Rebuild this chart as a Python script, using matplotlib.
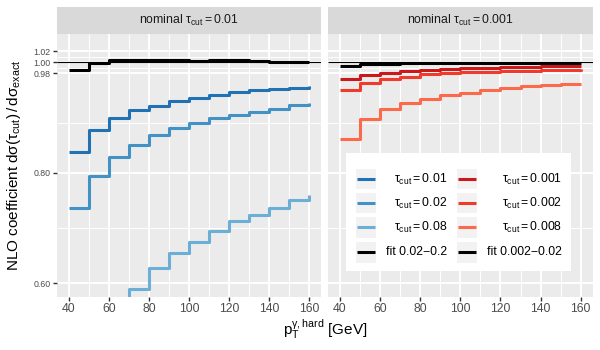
import numpy as np
import matplotlib
matplotlib.use("Agg")
import matplotlib.pyplot as plt
from matplotlib.patches import Rectangle

plt.rcParams['font.family'] = ['Liberation Sans', 'DejaVu Sans']
plt.rcParams['mathtext.fontset'] = 'custom'
plt.rcParams['mathtext.rm'] = 'Liberation Sans'
plt.rcParams['mathtext.it'] = 'Liberation Sans:italic'
plt.rcParams['mathtext.bf'] = 'Liberation Sans:bold'
plt.rcParams['mathtext.sf'] = 'Liberation Sans'
plt.rcParams['mathtext.default'] = 'rm'
plt.rcParams['lines.solid_capstyle'] = 'butt'

# photon pT bin edges (GeV)
pt = [40, 50, 60, 70, 80, 90, 100, 110, 120, 130, 140, 150, 160]

# left panel: nominal tau_cut = 0.01
nlo_tau_0p01 = [0.838, 0.877, 0.899, 0.914, 0.921, 0.930, 0.935, 0.941, 0.946, 0.949, 0.951, 0.954, 0.957]
nlo_tau_0p02 = [0.736, 0.794, 0.829, 0.851, 0.869, 0.881, 0.890, 0.899, 0.905, 0.910, 0.915, 0.922, 0.926]
nlo_tau_0p08 = [0.450, 0.510, 0.555, 0.590, 0.627, 0.654, 0.675, 0.695, 0.713, 0.724, 0.737, 0.750, 0.759]
fit_0p02_0p2 = [0.9855, 0.998, 1.0036, 1.004, 1.005, 1.005, 1.003, 1.0036, 1.0036, 1.002, 1.0005, 1.001, 1.001]

# right panel: nominal tau_cut = 0.001
nlo_tau_0p001 = [0.969, 0.977, 0.981, 0.985, 0.986, 0.988, 0.990, 0.990, 0.992, 0.992, 0.993, 0.993, 0.994]
nlo_tau_0p002 = [0.949, 0.962, 0.969, 0.974, 0.978, 0.980, 0.982, 0.983, 0.985, 0.985, 0.986, 0.986, 0.987]
nlo_tau_0p008 = [0.862, 0.897, 0.915, 0.927, 0.934, 0.940, 0.945, 0.950, 0.954, 0.957, 0.958, 0.961, 0.961]
fit_0p002_0p02 = [0.9935, 0.996, 0.997, 0.998, 0.998, 0.999, 0.999, 0.999, 0.999, 0.999, 0.999, 0.999, 0.999]

y_major = [0.60, 0.80, 0.98, 1.00, 1.02]
y_major_labels = ["0.60", "0.80", "0.98", "1.00", "1.02"]
y_minor = [0.70, 0.89, 0.99, 1.01]
x_major = [40, 60, 80, 100, 120, 140, 160]
x_minor = [50, 70, 90, 110, 130, 150]

blues = ["#2171B5", "#4292C6", "#6BAED6"]
reds = ["#CB181D", "#EF3B2C", "#FB6A4A"]
lw = 2.2

W, H = 600.0, 350.0
fig = plt.figure(figsize=(6, 3.5), dpi=100)

def box(x0, y0, x1, y1):
    return [x0 / W, 1 - y1 / H, (x1 - x0) / W, (y1 - y0) / H]

axL = fig.add_axes(box(57, 34, 321, 296.7))
axR = fig.add_axes(box(328, 34, 592.7, 296.7))

for ax in (axL, axR):
    ax.set_facecolor("#EBEBEB")
    for s in ax.spines.values():
        s.set_visible(False)
    ax.set_xlim(34, 166)
    ax.set_ylim(0.5756, 1.0512)
    ax.set_xticks(x_major)
    ax.set_xticks(x_minor, minor=True)
    ax.set_yticks(y_major)
    ax.set_yticks(y_minor, minor=True)
    ax.grid(which="major", color="white", lw=1.4)
    ax.grid(which="minor", color="white", lw=0.7)
    ax.set_axisbelow(True)
    ax.tick_params(which="minor", length=0)
    ax.tick_params(which="major", length=2.75, width=1.0, color="#333333")
    ax.tick_params(axis="x", labelsize=8.8, labelcolor="#4D4D4D", pad=2)
    ax.axhline(1.0, color="black", lw=0.8, zorder=2)

axL.set_yticklabels(y_major_labels)
axL.tick_params(axis="y", labelsize=6.3, labelcolor="#4D4D4D", pad=2)
axR.tick_params(axis="y", length=0, labelleft=False)

for vals, c in zip([nlo_tau_0p01, nlo_tau_0p02, nlo_tau_0p08], blues):
    axL.step(pt, vals, where="post", color=c, lw=lw, zorder=3)
axL.step(pt, fit_0p02_0p2, where="post", color="black", lw=lw, zorder=4)

for vals, c in zip([nlo_tau_0p001, nlo_tau_0p002, nlo_tau_0p008], reds):
    axR.step(pt, vals, where="post", color=c, lw=lw, zorder=3)
axR.step(pt, fit_0p002_0p02, where="post", color="black", lw=lw, zorder=4)

# facet strips
for (x0, x1), lab in zip([(57, 321), (328, 592.7)],
                         [r"nominal $\tau_{\mathrm{cut}} = 0.01$", r"nominal $\tau_{\mathrm{cut}} = 0.001$"]):
    sax = fig.add_axes(box(x0, 7, x1, 34))
    sax.set_facecolor("#D9D9D9")
    sax.set_xticks([])
    sax.set_yticks([])
    for s in sax.spines.values():
        s.set_visible(False)
    sax.text(0.5, 0.5, lab, ha="center", va="center", fontsize=8.8, color="#1A1A1A",
             transform=sax.transAxes)

# legend drawn inside right panel
def fx(px):
    return (px - 328) / 264.7

def fy(py):
    return 1 - (py - 34) / 262.7

axR.add_patch(Rectangle((fx(346), fy(271)), fx(571) - fx(346), fy(153) - fy(271),
                        transform=axR.transAxes, facecolor="white", edgecolor="none", zorder=10))
rows = [179, 203, 227, 252]
left_labels = [r"$\tau_{\mathrm{cut}} = 0.01$", r"$\tau_{\mathrm{cut}} = 0.02$",
               r"$\tau_{\mathrm{cut}} = 0.08$", "fit 0.02\u22120.2"]
right_labels = [r"$\tau_{\mathrm{cut}} = 0.001$", r"$\tau_{\mathrm{cut}} = 0.002$",
                r"$\tau_{\mathrm{cut}} = 0.008$", "fit 0.002\u22120.02"]
for kx0, kx1, tx, cols, labs in [(356, 376, 447, blues + ["black"], left_labels),
                                 (457, 477, 562, reds + ["black"], right_labels)]:
    for ry, c, lab in zip(rows, cols, labs):
        axR.add_patch(Rectangle((fx(kx0), fy(ry + 10.5)), fx(kx1) - fx(kx0), fy(ry - 10.5) - fy(ry + 10.5),
                                transform=axR.transAxes, facecolor="#F2F2F2", edgecolor="none", zorder=11))
        axR.plot([fx(kx0 + 1), fx(kx1 - 1)], [fy(ry), fy(ry)], color=c, lw=lw,
                 transform=axR.transAxes, zorder=12, clip_on=False)
        axR.text(fx(tx), fy(ry), lab, ha="right", va="center", fontsize=8.8, color="black",
                 transform=axR.transAxes, zorder=12)

fig.text(325 / W, 1 - 329 / H, r"$p_{\mathrm{T}}^{\gamma,\mathrm{hard}}$ [GeV]",
         ha="center", va="center", fontsize=11)
fig.text(14 / W, 1 - 165 / H,
         r"NLO coefficient $\mathrm{d}\sigma(\tau_{\mathrm{cut}})\,/\,\mathrm{d}\sigma_{\mathrm{exact}}$",
         ha="center", va="center", rotation=90, fontsize=11)

fig.savefig("out.png", dpi=100)
